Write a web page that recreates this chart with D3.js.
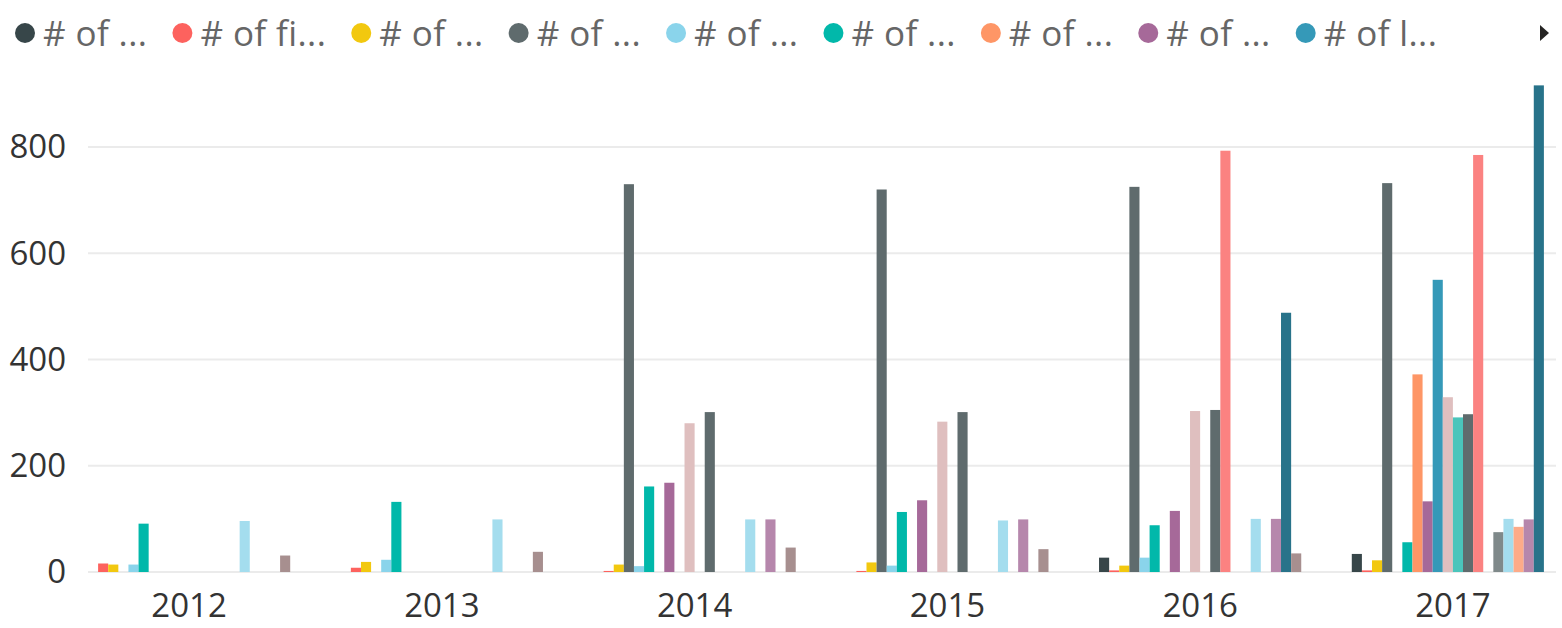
<!DOCTYPE html>
<html>
<head>
<meta charset="utf-8">
<script src="https://cdn.jsdelivr.net/npm/d3@7/dist/d3.min.js"></script>
<style>
  html, body { margin: 0; padding: 0; background: #ffffff; }
  svg { display: block; }
  text { font-family: "Open Sans", "Noto Sans", sans-serif; }
</style>
</head>
<body>
<svg id="chart" width="1562" height="628"></svg>
<script>
// ---- data ----
const years = ["2012", "2013", "2014", "2015", "2016", "2017"];
const seriesIds = ["s1","s2","s3","s4","s5","s6","s7","s8","s9","s10","s11","s12","s13","s14","s15","s16","s17","s18","s19","s20"];
const seriesColors = ["#374649","#FD625E","#F2C80F","#5F6B6D","#8AD4EB","#01B8AA","#FE9666","#A66999","#3599B8","#DFBFBF","#4AC5BB","#5F6B6D","#FB8281","#F4D25A","#7F898A","#A4DDEE","#FDAB89","#B687AC","#28738A","#A78F8F"];
const legendLabels = ["# of ...", "# of fi...", "# of ...", "# of ...", "# of ...", "# of ...", "# of ...", "# of ...", "# of l..."];
// values per series, one per year 2012..2017
const s1  = [0, 0, 0, 0, 27, 34];
const s2  = [16, 8, 2, 2, 3, 3];
const s3  = [14, 19, 14, 18, 12, 22];
const s4  = [0, 0, 730, 720, 725, 732];
const s5  = [14, 23, 11, 12, 27, 0];
const s6  = [91, 132, 161, 113, 88, 56];
const s7  = [0, 0, 0, 0, 0, 372];
const s8  = [0, 0, 168, 135, 115, 133];
const s9  = [0, 0, 0, 0, 0, 550];
const s10 = [0, 0, 280, 283, 303, 329];
const s11 = [0, 0, 0, 0, 0, 291];
const s12 = [0, 0, 301, 301, 305, 297];
const s13 = [0, 0, 0, 0, 793, 785];
const s14 = [0, 0, 0, 0, 0, 0];
const s15 = [0, 0, 0, 0, 0, 75];
const s16 = [96, 99, 99, 97, 100, 100];
const s17 = [0, 0, 0, 0, 0, 85];
const s18 = [0, 0, 99, 99, 100, 99];
const s19 = [0, 0, 0, 0, 488, 916];
const s20 = [31, 38, 46, 43, 35, 0];
const yTicks = [0, 200, 400, 600, 800];

const seriesValues = [s1,s2,s3,s4,s5,s6,s7,s8,s9,s10,s11,s12,s13,s14,s15,s16,s17,s18,s19,s20];

// ---- layout ----
const svg = d3.select("#chart");
svg.append("rect").attr("width", 1562).attr("height", 628).attr("fill", "#ffffff");

const plotLeft = 88, plotRight = 1554;
const x0 = d3.scaleBand().domain(years).range([plotLeft, plotRight]).paddingInner(0.2).paddingOuter(0);
const x1 = d3.scaleBand().domain(seriesIds).range([0, x0.bandwidth()]).padding(0);
const y = d3.scaleLinear().domain([0, 800]).range([572, 147]);

// gridlines
svg.append("g").selectAll("line").data(yTicks).join("line")
  .attr("x1", plotLeft).attr("x2", plotRight + 2)
  .attr("y1", d => y(d)).attr("y2", d => y(d))
  .attr("stroke", "#ebebeb").attr("stroke-width", 2);

// y axis labels
const yAxis = d3.axisLeft(y).tickValues(yTicks).tickSize(0).tickPadding(0);
const gy = svg.append("g").attr("transform", `translate(66,0)`).call(yAxis);
gy.select(".domain").remove();
gy.selectAll("text")
  .attr("font-family", "'Open Sans', 'Noto Sans', sans-serif")
  .attr("font-size", 33).attr("fill", "#333333")
  .attr("dy", "0.33em");

// x axis labels
const xAxis = d3.axisBottom(x0).tickSize(0).tickPadding(0);
const gx = svg.append("g").attr("transform", `translate(0,617)`).call(xAxis);
gx.select(".domain").remove();
gx.selectAll("text")
  .attr("font-family", "'Open Sans', 'Noto Sans', sans-serif")
  .attr("font-size", 33).attr("fill", "#333333")
  .attr("dy", 0).attr("y", 0);

// bars
const rows = [];
years.forEach((yr, yi) => {
  seriesIds.forEach((sid, si) => {
    rows.push({ year: yr, series: sid, value: seriesValues[si][yi], color: seriesColors[si] });
  });
});
svg.append("g").selectAll("rect").data(rows.filter(d => d.value > 0)).join("rect")
  .attr("x", d => x0(d.year) + x1(d.series))
  .attr("width", x1.bandwidth())
  .attr("y", d => y(d.value))
  .attr("height", d => y(0) - y(d.value))
  .attr("fill", d => d.color);

// legend
const lg = svg.append("g");
let cx = 25;
legendLabels.forEach((lab, i) => {
  lg.append("circle").attr("cx", cx).attr("cy", 33).attr("r", 10).attr("fill", seriesColors[i]);
  const t = lg.append("text").attr("x", cx + 18).attr("y", 46)
    .attr("font-size", 35).attr("fill", "#666666")
    .style("letter-spacing", "0.4px")
    .text(lab);
  const w = t.node().getComputedTextLength();
  cx = cx + 18 + w + 35;
});
// scroll arrow
lg.append("path").attr("d", "M1540,25 L1549,33 L1540,41 Z").attr("fill", "#252423");
</script>
</body>
</html>
